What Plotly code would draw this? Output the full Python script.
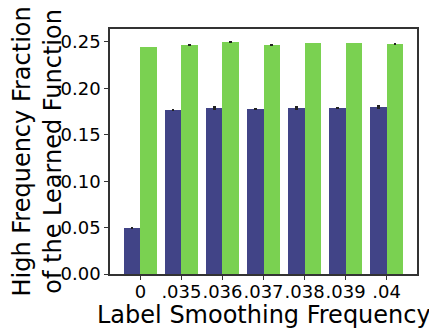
import plotly.graph_objects as go

categories = ["0", ".035", ".036", ".037", ".038", ".039", ".04"]
blue_vals = [0.0495, 0.1767, 0.1790, 0.1780, 0.1790, 0.1790, 0.1800]
blue_err = [0.0012, 0.0010, 0.0018, 0.0012, 0.0018, 0.0014, 0.0018]
green_vals = [0.2446, 0.2468, 0.2500, 0.2468, 0.2490, 0.2490, 0.2480]
green_err = [0.0003, 0.0006, 0.0006, 0.0008, 0.0004, 0.0004, 0.0008]
y_ticks = [0, 0.05, 0.10, 0.15, 0.20, 0.25]
y_ticktext = ["0.00", "0.05", "0.10", "0.15", "0.20", "0.25"]
x_title = "Label Smoothing Frequency"
y_title = "High Frequency Fraction<br>of the Learned Function"

xs = list(range(len(categories)))
w = 0.4

fig = go.Figure()
fig.add_trace(go.Bar(
    x=[x - w / 2 for x in xs], y=blue_vals, width=w,
    marker=dict(color="#414487", line=dict(width=0)),
    error_y=dict(type="data", array=blue_err, color="#222222", thickness=2.5, width=0),
    showlegend=False,
))
fig.add_trace(go.Bar(
    x=[x + w / 2 for x in xs], y=green_vals, width=w,
    marker=dict(color="#7AD151", line=dict(width=0)),
    error_y=dict(type="data", array=green_err, color="#222222", thickness=2.5, width=0),
    showlegend=False,
))

fig.update_layout(
    width=437, height=334,
    margin=dict(l=102, r=28, t=21, b=68, autoexpand=False),
    plot_bgcolor="white", paper_bgcolor="white",
    font=dict(family="DejaVu Sans", color="black"),
    barmode="overlay",
    bargap=0,
)
fig.update_xaxes(
    range=[-0.74, 6.74], automargin=False,
    tickmode="array", tickvals=xs, ticktext=categories, tickangle=0,
    tickfont=dict(size=18), ticklabelstandoff=-3,
    ticks="outside", ticklen=4, tickcolor="#333333",
    showline=True, linecolor="#333333", linewidth=1.5, mirror=True,
    showgrid=False, zeroline=False,
)
fig.update_yaxes(
    range=[0, 0.264], automargin=False,
    tickmode="array", tickvals=y_ticks, ticktext=y_ticktext,
    tickfont=dict(size=18),
    ticks="outside", ticklen=4, tickcolor="#333333",
    showline=True, linecolor="#333333", linewidth=1.5, mirror=True,
    showgrid=False, zeroline=False,
)
fig.add_annotation(
    text=x_title, xref="paper", yref="paper", x=0.5, y=0,
    xanchor="center", yanchor="middle", yshift=-41, showarrow=False,
    font=dict(size=24, family="DejaVu Sans", color="black"),
)
fig.add_annotation(
    text=y_title, xref="paper", yref="paper", x=0, y=0.5,
    xanchor="center", yanchor="middle", xshift=-73, showarrow=False,
    textangle=-90,
    font=dict(size=24, family="DejaVu Sans", color="black"),
)

fig.write_html("out.html")
